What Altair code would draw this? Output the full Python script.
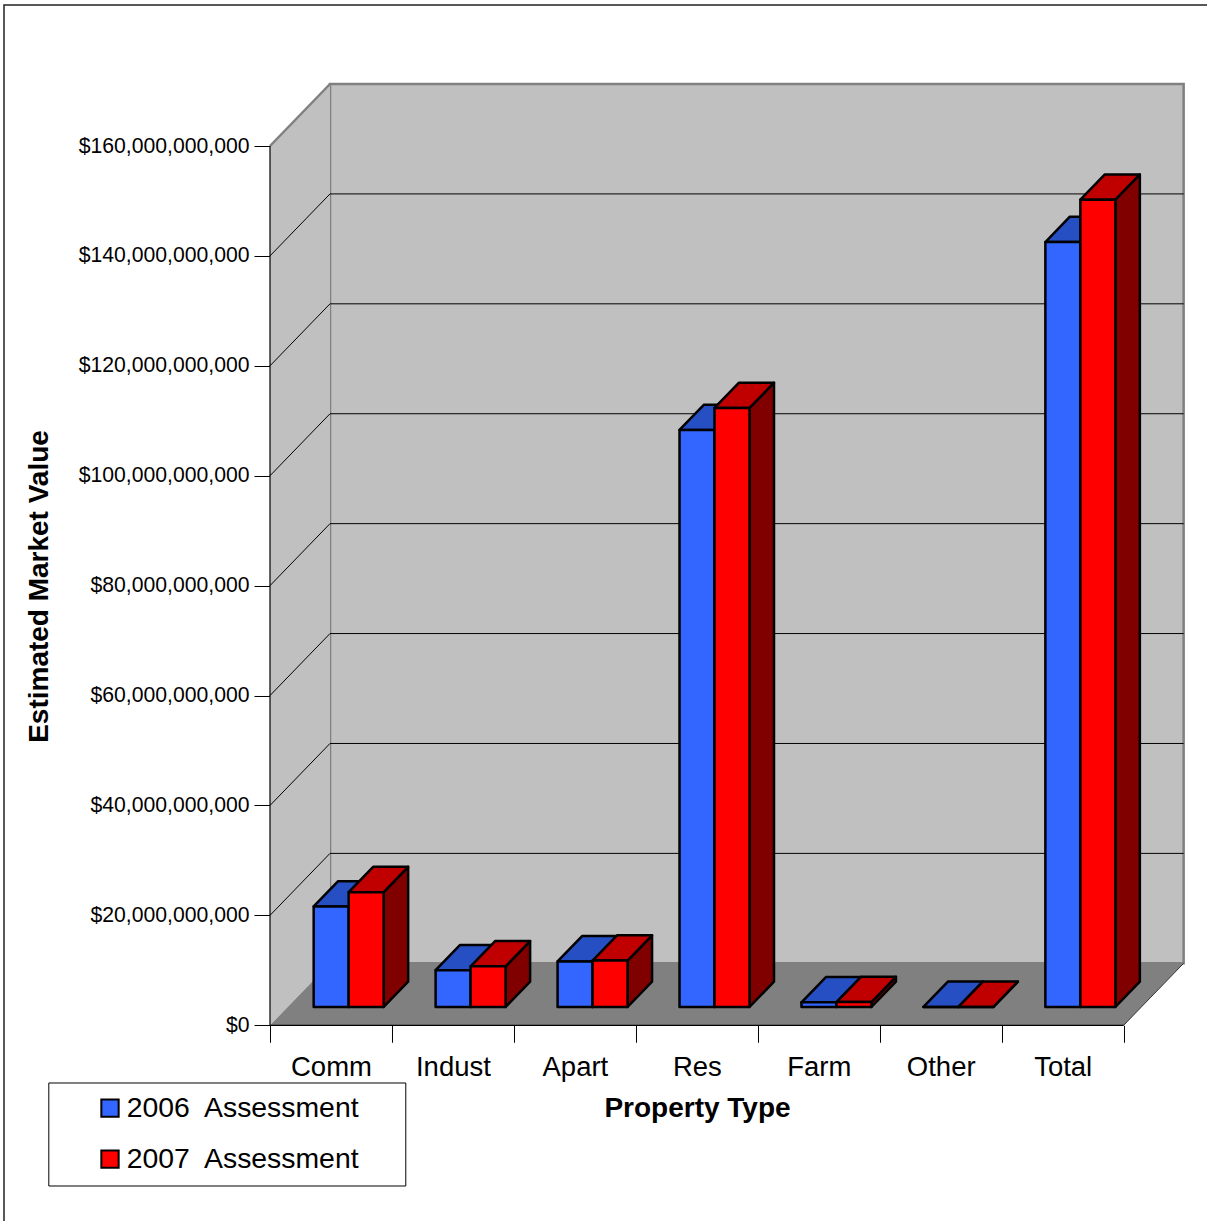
import json

import altair as alt
import pandas as pd

# ---- data (billions of dollars) ----
categories = ["Comm", "Indust", "Apart", "Res", "Farm", "Other", "Total"]
series_names = ["2006\u00a0 Assessment", "2007\u00a0 Assessment"]
value_2006 = [18.3, 6.7, 8.3, 105.0, 0.85, 0.02, 139.2]
value_2007 = [20.9, 7.4, 8.45, 109.0, 0.9, 0.02, 146.9]
y_ticks = [0, 20, 40, 60, 80, 100, 120, 140, 160]

# ---- colours: front / top / side faces of each series ----
front_colors = ["#3366FF", "#FF0000"]
top_colors = ["#264FC4", "#C00000"]
side_colors = ["#1A3399", "#800000"]
WALL = "#C0C0C0"
FLOOR = "#808080"
EDGE = "#808080"
FONT = "Liberation Sans"

# ---- 3-D box geometry ----
PX_PER_CAT = 121.95            # pixels per category slot on the front plane
PX_PER_BN = 879.3 / 160        # pixels per billion on the front plane
DEPTH_PX_X = 60.0              # horizontal shift of the back wall
DEPTH_PX_Y = 62.0              # vertical shift of the back wall
N = len(categories)
Y_TOP = 160
DX = DEPTH_PX_X / PX_PER_CAT   # depth shift in x-scale units
DY = DEPTH_PX_Y / PX_PER_BN    # depth shift in y-scale units
PLOT_W = (N + DX) * PX_PER_CAT
PLOT_H = (Y_TOP + DY) * PX_PER_BN

BAR_START = 0.213              # first bar's left edge inside a slot
BAR_W = 0.287                  # bar width in slot units
Z_FRONT = 0.295                # bar front face depth (0 = front, 1 = back wall)
Z_BACK = 0.703                 # bar back face depth

x_axis = alt.Axis(
    values=[k / 2 for k in range(2 * N + 1)],
    labelExpr=json.dumps([categories[(k - 1) // 2] if k % 2 else "" for k in range(2 * N + 1)])
    + "[round(datum.value * 2)]",
    tickOpacity={"condition": {"test": "datum.value % 1 != 0", "value": 0}, "value": 1},
    tickSize=17, tickColor="black", tickWidth=1,
    domain=False, grid=False,
    labelFont=FONT, labelFontSize=27.5, labelColor="black",
    labelPadding=33, labelBaseline="alphabetic", labelOverlap=False, labelFlush=False,
    title="Property Type", titleFont=FONT, titleFontSize=28, titleFontWeight="bold",
    titleColor="black", titleX=427, titleY=91, titleBaseline="alphabetic", titleAlign="center",
)
y_axis = alt.Axis(
    values=y_ticks,
    labelExpr="'$' + format(datum.value * 1e9, ',')",
    tickSize=16, tickColor="black", tickWidth=1,
    domain=False, grid=False,
    labelFont=FONT, labelFontSize=21.2, labelColor="black", labelPadding=5,
    title="Estimated Market Value", titleFont=FONT, titleFontSize=28, titleFontWeight="bold",
    titleColor="black", titleAngle=270, titleX=-222, titleY=502,
    titleBaseline="alphabetic", titleAlign="center",
)
x_scale = alt.Scale(domain=[0, N + DX], nice=False, zero=False)
y_scale = alt.Scale(domain=[0, Y_TOP + DY], nice=False, zero=False)


def X(field):
    return alt.X(field, type="quantitative", scale=x_scale, axis=x_axis)


def Y(field):
    return alt.Y(field, type="quantitative", scale=y_scale, axis=y_axis)


# ---- bar faces ----
front_rows, top_rows, side_rows = [], [], []
for s, vals in enumerate([value_2006, value_2007]):
    for i, v in enumerate(vals):
        xa = i + BAR_START + s * BAR_W
        xb = xa + BAR_W
        bid = f"{s}-{i}"
        front_rows.append(dict(series=series_names[s], category=categories[i], value=v,
                               x=xa + Z_FRONT * DX, x2=xb + Z_FRONT * DX,
                               y=Z_FRONT * DY, y2=v + Z_FRONT * DY))
        for z in (Z_FRONT, Z_BACK):
            top_rows.append(dict(s=s, bid=bid, y=v + z * DY, x=xa + z * DX, x2=xb + z * DX))
            side_rows.append(dict(s=s, bid=bid, x=xb + z * DX, y=z * DY, y2=v + z * DY))
front_df = pd.DataFrame(front_rows)
top_df = pd.DataFrame(top_rows)
side_df = pd.DataFrame(side_rows)

# ---- walls and floor ----
back_wall = alt.Chart(pd.DataFrame([dict(x=DX, x2=N + DX, y=DY, y2=Y_TOP + DY)])).mark_rect(
    fill=WALL, stroke=EDGE, strokeWidth=2.5
).encode(x=X("x"), x2="x2", y=Y("y"), y2="y2")

left_wall = alt.Chart(pd.DataFrame([dict(x=0, y=0, y2=Y_TOP), dict(x=DX, y=DY, y2=Y_TOP + DY)])).mark_area(
    orient="vertical", fill=WALL
).encode(x=X("x"), y=Y("y"), y2="y2")

floor = alt.Chart(pd.DataFrame([dict(y=0, x=0, x2=N), dict(y=DY, x=DX, x2=N + DX)])).mark_area(
    orient="horizontal", fill=FLOOR
).encode(y=Y("y"), x=X("x"), x2="x2")

grid_vals = [v for v in y_ticks if 0 < v < Y_TOP]
back_grid = alt.Chart(pd.DataFrame([dict(x=DX, x2=N + DX, y=v + DY) for v in grid_vals])).mark_rule(
    color="black", strokeWidth=1
).encode(x=X("x"), x2="x2", y=Y("y"))

side_grid = alt.Chart(pd.DataFrame([dict(x=0, x2=DX, y=v, y2=v + DY) for v in grid_vals])).mark_rule(
    color="black", strokeWidth=1
).encode(x=X("x"), x2="x2", y=Y("y"), y2="y2")

wall_top_edge = alt.Chart(pd.DataFrame([dict(x=0, x2=DX, y=Y_TOP, y2=Y_TOP + DY)])).mark_rule(
    color=EDGE, strokeWidth=2.5
).encode(x=X("x"), x2="x2", y=Y("y"), y2="y2")

floor_edge = alt.Chart(pd.DataFrame([dict(x=N, x2=N + DX, y=0, y2=DY)])).mark_rule(
    color="#333333", strokeWidth=1
).encode(x=X("x"), x2="x2", y=Y("y"), y2="y2")

axis_lines = alt.Chart(pd.DataFrame([dict(x=0, x2=0, y=0, y2=Y_TOP), dict(x=0, x2=N, y=0, y2=0)])).mark_rule(
    color="black", strokeWidth=1.2
).encode(x=X("x"), x2="x2", y=Y("y"), y2="y2")

# ---- bars: sides, then tops, then fronts ----
side_layers = [
    alt.Chart(side_df[side_df.s == s]).mark_area(
        orient="vertical", fill=side_colors[s], stroke="black", strokeWidth=2.5, strokeJoin="round"
    ).encode(x=X("x"), y=Y("y"), y2="y2", detail="bid:N")
    for s in range(2)
]
top_layers = [
    alt.Chart(top_df[top_df.s == s]).mark_area(
        orient="horizontal", fill=top_colors[s], stroke="black", strokeWidth=2.5, strokeJoin="round"
    ).encode(y=Y("y"), x=X("x"), x2="x2", detail="bid:N")
    for s in range(2)
]
fronts = alt.Chart(front_df).mark_rect(stroke="black", strokeWidth=2.5, strokeJoin="round").encode(
    x=X("x"), x2="x2", y=Y("y"), y2="y2",
    color=alt.Color(
        "series:N",
        scale=alt.Scale(domain=series_names, range=front_colors),
        legend=alt.Legend(
            orient="none", legendX=-221.7, legendY=998.5, direction="vertical",
            title=" ", titleOrient="right", titlePadding=34, titleFontSize=27,
            fillColor="white", strokeColor="black", padding=11.5,
            symbolType="square", symbolSize=300, symbolStrokeColor="black", symbolStrokeWidth=2,
            symbolOffset=36, labelOffset=2.5, rowPadding=22, labelLimit=500,
            labelFont=FONT, labelFontSize=28.4, labelColor="black",
        ),
    ),
)

# ---- outer frame of the chart area ----
frame = alt.Chart(pd.DataFrame([dict(k=0)])).mark_rect(
    fillOpacity=0, stroke="#222222", strokeWidth=1.5
).encode(x=alt.value(-266), x2=alt.value(960), y=alt.value(-79), y2=alt.value(1160))

chart = alt.layer(
    frame, back_wall, left_wall, floor, back_grid, side_grid, wall_top_edge, floor_edge,
    *side_layers, *top_layers, fronts, axis_lines,
).properties(
    width=PLOT_W, height=PLOT_H,
    padding={"left": 270, "top": 84, "right": 23, "bottom": 196},
    autosize=alt.AutoSizeParams(type="none"),
).configure(font=FONT).configure_view(strokeOpacity=0)

chart.save("out.html", embed_options={"renderer": "svg", "actions": False})
